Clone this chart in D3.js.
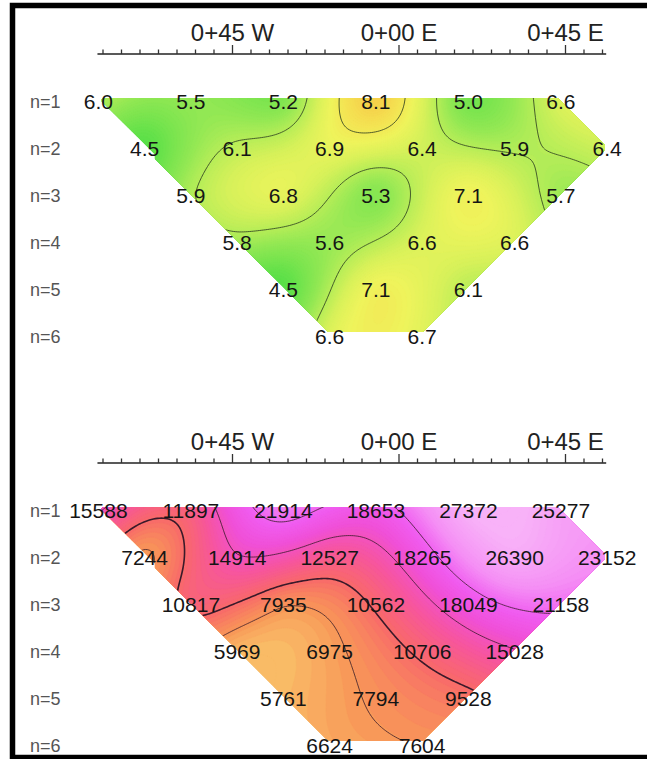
<!DOCTYPE html>
<html>
<head>
<meta charset="utf-8">
<script src="https://cdn.jsdelivr.net/npm/d3@7"></script>
<style>
  body { margin: 0; background: #fff; }
  svg { display: block; font-family: "Liberation Sans", Arial, sans-serif; }
</style>
</head>
<body>
<div id="chart"></div>
<script>
// Pseudosection readings, one array per n-level (n=1 at the top)
const nLevels = [1, 2, 3, 4, 5, 6];
const phaseRows = [
    [6.0, 5.5, 5.2, 8.1, 5.0, 6.6],
    [4.5, 6.1, 6.9, 6.4, 5.9, 6.4],
    [5.9, 6.8, 5.3, 7.1, 5.7],
    [5.8, 5.6, 6.6, 6.6],
    [4.5, 7.1, 6.1],
    [6.6, 6.7]
];
const resistivityRows = [
    [15588, 11897, 21914, 18653, 27372, 25277],
    [7244, 14914, 12527, 18265, 26390, 23152],
    [10817, 7935, 10562, 18049, 21158],
    [5969, 6975, 10706, 15028],
    [5761, 7794, 9528],
    [6624, 7604]
];

// Station geometry (feet): first plot point and half dipole spacing
const firstPoint = -81.25;
const halfSpacing = 12.5;

// Axis
const axisTicks = d3.range(-80, 56, 5);
const majorTicks = [-45, 0, 45];
const majorLabels = ['0+45 W', '0+00 E', '0+45 E'];
const axisExtent = [-81.5, 56];

// Contour levels and colour stops
const phaseLevels = [6, 7.3];
const phaseStops = [4.5, 5.0, 5.5, 6.0, 6.5, 7.0, 7.5, 8.1];
const phaseColors = ['#58df48', '#76e44e', '#92e854', '#b6ed58', '#d8f15a', '#eef45c', '#f4e454', '#f6d04a'];
const resLevels = [7500, 10000, 15000, 20000];
const resStops = [5700, 7500, 10000, 13000, 16500, 19500, 23000, 27400];
const resColors = ['#f9bb66', '#f89658', '#f8696a', '#f7569c', '#f050d8', '#f05cf0', '#f590f5', '#f8b2f8'];

const width = 647, height = 759;

const svg = d3.select('#chart').append('svg')
    .attr('width', width)
    .attr('height', height);

// Outer frame (right side runs off the page)
svg.append('rect')
    .attr('x', 12.5).attr('y', 5.5)
    .attr('width', 660).attr('height', 752)
    .attr('fill', 'none')
    .attr('stroke', '#000')
    .attr('stroke-width', 5.5);

const x = d3.scaleLinear().domain([0, 45]).range([399, 565.5]);

// Thin plate spline through scattered points
function tpsFit(pts) {
    const N = pts.length, M = N + 3;
    const phi = r => r > 0 ? r * r * Math.log(r) : 0;
    const A = [];
    for (let i = 0; i < M; i++) A.push(new Float64Array(M + 1));
    for (let i = 0; i < N; i++) {
        for (let j = 0; j < N; j++) {
            A[i][j] = phi(Math.hypot(pts[i].x - pts[j].x, pts[i].y - pts[j].y));
        }
        A[i][N] = 1; A[i][N + 1] = pts[i].x; A[i][N + 2] = pts[i].y;
        A[N][i] = 1; A[N + 1][i] = pts[i].x; A[N + 2][i] = pts[i].y;
        A[i][M] = pts[i].v;
    }
    // gaussian elimination
    for (let c = 0; c < M; c++) {
        let p = c;
        for (let r = c + 1; r < M; r++) if (Math.abs(A[r][c]) > Math.abs(A[p][c])) p = r;
        [A[c], A[p]] = [A[p], A[c]];
        for (let r = 0; r < M; r++) {
            if (r === c) continue;
            const f = A[r][c] / A[c][c];
            if (!f) continue;
            for (let k = c; k <= M; k++) A[r][k] -= f * A[c][k];
        }
    }
    const w = A.map((row, i) => row[M] / row[i]);
    return (px, py) => {
        let s = w[N] + w[N + 1] * px + w[N + 2] * py;
        for (let i = 0; i < N; i++) s += w[i] * phi(Math.hypot(px - pts[i].x, py - pts[i].y));
        return s;
    };
}

function drawPanel(axisY, rows, levels, stops, colors, lineColor, majorLevel, id) {
    const g = svg.append('g');
    const y = d3.scaleLinear().domain([1, 6]).range([axisY + 45, axisY + 45 + 235]);

    // Axis
    g.append('line')
        .attr('x1', x(axisExtent[0])).attr('x2', x(axisExtent[1]))
        .attr('y1', axisY).attr('y2', axisY)
        .attr('stroke', '#222').attr('stroke-width', 1.6);
    g.selectAll('line.tick').data(axisTicks).join('line')
        .attr('class', 'tick')
        .attr('x1', d => x(d)).attr('x2', d => x(d))
        .attr('y1', axisY)
        .attr('y2', d => axisY - (majorTicks.includes(d) ? 9 : 4.5))
        .attr('stroke', '#333').attr('stroke-width', 1.3);
    g.selectAll('text.axlab').data(majorTicks).join('text')
        .attr('class', 'axlab')
        .attr('x', d => x(d)).attr('y', axisY - 13)
        .attr('text-anchor', 'middle')
        .attr('font-size', 24)
        .attr('fill', '#222')
        .text((d, i) => majorLabels[i]);

    // Points
    const pts = [];
    rows.forEach((vals, r) => {
        const n = nLevels[r];
        vals.forEach((v, i) => {
            const ft = firstPoint + ((n - 1) + 2 * i) * halfSpacing;
            pts.push({ px: x(ft), py: y(n), v, x: x(ft) / 47, y: y(n) / 47 });
        });
    });

    const f = tpsFit(pts);

    // Interpolation grid
    const cell = 2;
    const gx0 = x(axisExtent[0]) - 10, gy0 = y(1) - 8;
    const nx = Math.ceil((x(axisExtent[1]) + 10 - gx0) / cell);
    const ny = Math.ceil((y(6) + 8 - gy0) / cell);
    const values = new Float64Array(nx * ny);
    for (let j = 0; j < ny; j++) {
        for (let i = 0; i < nx; i++) {
            values[j * nx + i] = f((gx0 + i * cell) / 47, (gy0 + j * cell) / 47);
        }
    }
    const path = d3.geoPath(d3.geoTransform({
        point(px, py) {
            this.stream.point(gx0 + (px - 0.5) * cell, gy0 + (py - 0.5) * cell);
        }
    }));

    // Blocky clip mask from the data hull (gives the stepped edges)
    const hull = d3.polygonHull(pts.map(p => [p.px, p.py]));
    const mcell = 4.5;
    const mx0 = gx0, my0 = y(1) - 1;
    const mnx = Math.ceil((x(axisExtent[1]) + 10 - mx0) / mcell);
    const mny = Math.ceil((y(6) + 4 - my0) / mcell);
    const mask = new Float64Array(mnx * mny);
    for (let j = 0; j < mny; j++) {
        for (let i = 0; i < mnx; i++) {
            const c = [mx0 + (i + 0.5) * mcell, my0 + (j + 0.5) * mcell];
            mask[j * mnx + i] = d3.polygonContains(hull, c) ? 1 : 0;
        }
    }
    const maskPath = d3.geoPath(d3.geoTransform({
        point(px, py) {
            this.stream.point(mx0 + px * mcell, my0 + py * mcell);
        }
    }));
    svg.append('clipPath').attr('id', id)
        .append('path')
        .attr('d', maskPath(d3.contours().size([mnx, mny]).smooth(false).thresholds([0.5])(mask)[0]));

    const color = d3.scaleLinear().domain(stops).range(colors).clamp(true);
    const lo = d3.min(values), hi = d3.max(values);
    const bands = d3.range(60).map(k => lo + (hi - lo) * k / 60);

    const fillG = g.append('g').attr('clip-path', `url(#${id})`);
    fillG.selectAll('path.band')
        .data(d3.contours().size([nx, ny]).thresholds(bands)(values))
        .join('path')
        .attr('class', 'band')
        .attr('d', path)
        .attr('fill', d => color(d.value + (hi - lo) / 120))
        .attr('stroke', d => color(d.value + (hi - lo) / 120))
        .attr('stroke-width', 0.5);

    fillG.selectAll('path.iso')
        .data(d3.contours().size([nx, ny]).thresholds(levels)(values))
        .join('path')
        .attr('class', 'iso')
        .attr('d', path)
        .attr('fill', 'none')
        .attr('stroke', lineColor)
        .attr('stroke-width', d => d.value === majorLevel ? 1.6 : 0.8);

    // Row labels
    g.selectAll('text.row').data(nLevels).join('text')
        .attr('class', 'row')
        .attr('x', 30).attr('y', d => y(d) + 3)
        .attr('dy', '0.35em')
        .attr('font-size', 18)
        .attr('fill', '#555')
        .text(d => 'n=' + d);

    // Values
    const fmt = rows === phaseRows ? d3.format('.1f') : d3.format('d');
    g.selectAll('text.val').data(pts).join('text')
        .attr('class', 'val')
        .attr('x', d => d.px).attr('y', d => d.py + 3)
        .attr('dy', '0.35em')
        .attr('text-anchor', 'middle')
        .attr('font-size', 21)
        .attr('fill', '#151515')
        .text(d => fmt(d.v));
}

drawPanel(54, phaseRows, phaseLevels, phaseStops, phaseColors, '#2a3a20', null, 'clipPhase');
drawPanel(463, resistivityRows, resLevels, resStops, resColors, '#3a1a2a', 10000, 'clipRes');
</script>
</body>
</html>
